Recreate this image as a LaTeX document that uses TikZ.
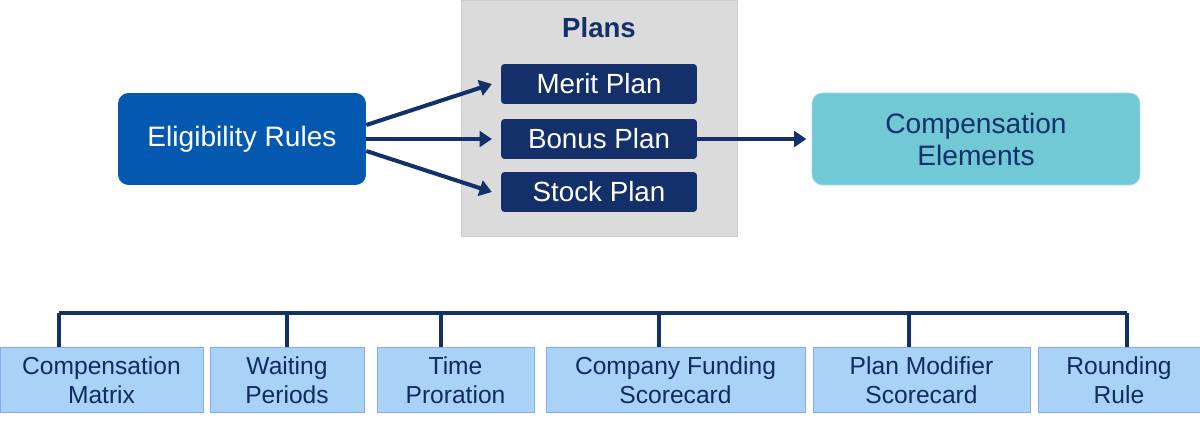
\documentclass[tikz,border=0pt]{standalone}
\usepackage{fontspec}
\setmainfont{Liberation Sans}
\usetikzlibrary{arrows.meta}
\definecolor{navy}{HTML}{13306B}
\definecolor{royal}{HTML}{0558B0}
\definecolor{teal}{HTML}{70C9D4}
\definecolor{sky}{HTML}{A8D3F7}
\tikzset{
  planbox/.style={fill=navy, rounded corners=2pt, text=white, minimum width=3.92cm, minimum height=0.8cm, font=\fontsize{15.8}{18}\selectfont},
  leafbox/.style={fill=sky, draw=sky!80!blue, text=navy!90!black, minimum height=1.3cm, align=center, font=\fontsize{14}{16.5}\selectfont},
  link/.style={draw=navy, line width=2.3pt, -{Triangle[length=7pt,width=9pt]}},
  tree/.style={draw=navy, line width=1.8pt}
}
\begin{document}
\begin{tikzpicture}[x=0.02cm,y=-0.02cm]
\useasboundingbox (0,0) rectangle (1200,426);
\fill[color=gray!28, draw=gray!40] (461,0) rectangle (737,236);
\node[text=navy, font=\bfseries\fontsize{15.7}{18}\selectfont] (plans) at (599,28) {Plans};
\node[planbox] (merit) at (599,84) {Merit Plan};
\node[planbox] (bonus) at (599,139) {Bonus Plan};
\node[planbox] (stock) at (599,192) {Stock Plan};
\node[fill=royal, rounded corners=6pt, text=white, minimum width=4.96cm, minimum height=1.84cm, font=\fontsize{16}{18}\selectfont] (elig) at (242,139) {Eligibility Rules};
\node[fill=teal, draw=teal!70!white, rounded corners=6pt, text=navy, minimum width=6.56cm, minimum height=1.84cm, align=center, font=\fontsize{16}{18.2}\selectfont] (comp) at (976,139) {Compensation\\Elements};
\draw[link] (elig.east) ++(0,-14) -- ([xshift=-5pt]merit.west);
\draw[link] (elig.east) -- ([xshift=-5pt]bonus.west);
\draw[link] (elig.east) ++(0,12) -- ([xshift=-5pt]stock.west);
\draw[link] (bonus.east) -- ([xshift=-3pt]comp.west);

\node[leafbox, minimum width=4.06cm] (matrix) at (101.5,380) {Compensation\\Matrix};
\node[leafbox, minimum width=3.08cm] (waiting) at (287,380) {Waiting\\Periods};
\node[leafbox, minimum width=3.14cm] (proration) at (455.5,380) {Time\\Proration};
\node[leafbox, minimum width=5.18cm] (funding) at (675.5,380) {Company Funding\\Scorecard};
\node[leafbox, minimum width=4.34cm] (modifier) at (921.5,380) {Plan Modifier\\Scorecard};
\node[leafbox, minimum width=3.24cm] (rounding) at (1119,380) {Rounding\\Rule};
\draw[tree] (59,313) -- (1127,313);
\draw[tree] (59,313) -- (59,347);
\draw[tree] (287,313) -- (waiting.north);
\draw[tree] (441,313) -- (441,347);
\draw[tree] (659,313) -- (659,347);
\draw[tree] (909,313) -- (909,347);
\draw[tree] (1127,313) -- (1127,347);
\end{tikzpicture}
\end{document}
